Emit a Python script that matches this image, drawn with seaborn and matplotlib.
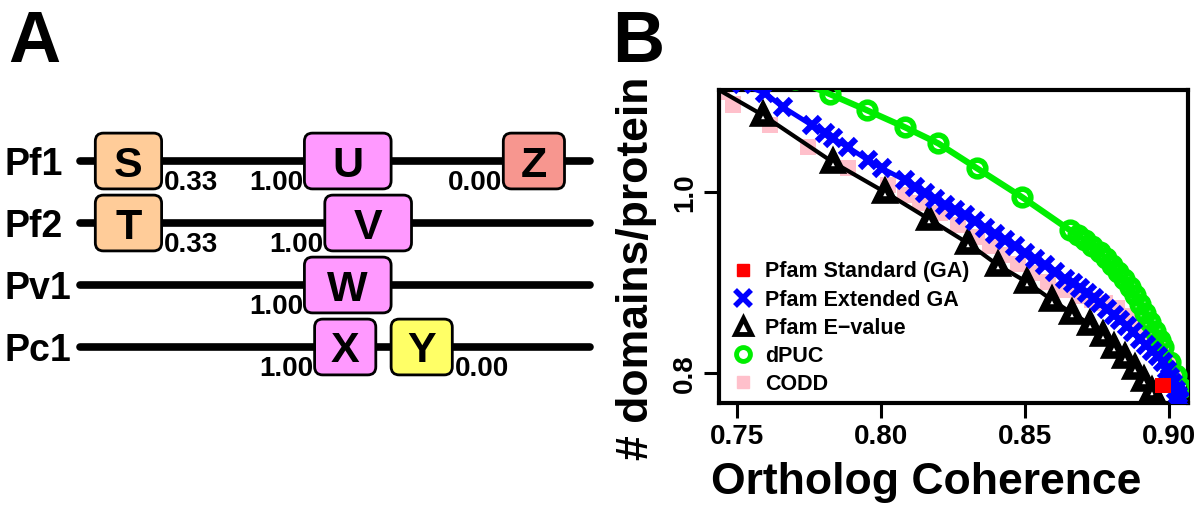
import matplotlib
matplotlib.use("Agg")
import matplotlib.pyplot as plt
from matplotlib.patches import FancyBboxPatch
from matplotlib.lines import Line2D
import seaborn as sns

# ── Panel A: domain architectures ────────────────────────────────────
PROTEINS = ["Pf1", "Pf2", "Pv1", "Pc1"]
PROTEIN_LENGTH = 100
DOM_ROW = [0, 0, 0, 1, 1, 2, 3, 3]
DOM_LETTER = ["S", "U", "Z", "T", "V", "W", "X", "Y"]
DOM_START = [3, 44, 83, 3, 48, 44, 46, 61]
DOM_END = [16, 61, 95, 16, 65, 61, 58, 73]
DOM_SCORE = ["0.33", "1.00", "0.00", "0.33", "1.00", "1.00", "1.00", "0.00"]
DOM_SCORE_SIDE = ["right", "left", "left", "right", "left", "left", "left", "right"]
DOM_COLOR = ["#FFCC99", "#FF99FF", "#F7968F", "#FFCC99", "#FF99FF",
             "#FF99FF", "#FF99FF", "#FFFF66"]

# ── Panel B: domains/protein vs ortholog coherence ───────────────────
STD_X = [0.8979]
STD_Y = [0.7867]

EXT_X = [0.7517, 0.7597, 0.7660, 0.7760, 0.7806, 0.7833, 0.7885, 0.7955,
         0.8003, 0.8083, 0.8118, 0.8153, 0.8188, 0.8222, 0.8257, 0.8292,
         0.8326, 0.8361, 0.8396, 0.8431, 0.8465, 0.8500, 0.8535, 0.8569,
         0.8604, 0.8639, 0.8667, 0.8691, 0.8715, 0.8740, 0.8760, 0.8785,
         0.8809, 0.8830, 0.8854, 0.8875, 0.8899, 0.8920, 0.8941, 0.8962,
         0.8979, 0.8993, 0.9003, 0.9014, 0.9024, 0.9031, 0.9038]
EXT_Y = [1.1193, 1.1094, 1.0939, 1.0740, 1.0652, 1.0597, 1.0497, 1.0354,
         1.0265, 1.0133, 1.0055, 0.9989, 0.9923, 0.9856, 0.9801, 0.9746,
         0.9680, 0.9602, 0.9536, 0.9470, 0.9403, 0.9326, 0.9260, 0.9193,
         0.9116, 0.9039, 0.8994, 0.8939, 0.8884, 0.8829, 0.8773, 0.8707,
         0.8641, 0.8586, 0.8519, 0.8453, 0.8376, 0.8309, 0.8243, 0.8188,
         0.8122, 0.8033, 0.7956, 0.7890, 0.7812, 0.7757, 0.7702]

EVAL_X = [0.7372, 0.7590, 0.7833, 0.8014, 0.8167, 0.8302, 0.8406, 0.8507,
          0.8594, 0.8663, 0.8726, 0.8771, 0.8809, 0.8847, 0.8882, 0.8913,
          0.8941, 0.8962]
EVAL_Y = [1.1249, 1.0851, 1.0331, 1.0000, 0.9702, 0.9436, 0.9193, 0.9006,
          0.8807, 0.8663, 0.8541, 0.8420, 0.8287, 0.8177, 0.8055, 0.7923,
          0.7801, 0.7680]

DPUC_X = [0.7701, 0.7823, 0.7951, 0.8083, 0.8198, 0.8333, 0.8490, 0.8656,
          0.8684, 0.8708, 0.8733, 0.8760, 0.8781, 0.8802, 0.8823, 0.8844,
          0.8865, 0.8882, 0.8899, 0.8917, 0.8934, 0.8951, 0.8969, 0.8979,
          0.9003, 0.9024, 0.9042]
DPUC_Y = [1.1249, 1.1083, 1.0906, 1.0718, 1.0541, 1.0265, 0.9945, 0.9580,
          0.9525, 0.9470, 0.9403, 0.9337, 0.9271, 0.9193, 0.9116, 0.9039,
          0.8950, 0.8862, 0.8762, 0.8663, 0.8564, 0.8464, 0.8365, 0.8287,
          0.8122, 0.7978, 0.7834]

CODD_X = [0.7448, 0.7486, 0.7615, 0.7747, 0.7885, 0.8024, 0.8083, 0.8135,
          0.8205, 0.8267, 0.8333, 0.8378, 0.8424, 0.8476, 0.8528, 0.8580,
          0.8632, 0.8684, 0.8733, 0.8778, 0.8819, 0.8854, 0.8889, 0.8924,
          0.8958, 0.8986, 0.9010, 0.9028, 0.9042]
CODD_Y = [1.1105, 1.0972, 1.0740, 1.0497, 1.0265, 1.0077, 0.9967, 0.9878,
          0.9768, 0.9635, 0.9503, 0.9403, 0.9304, 0.9204, 0.9105, 0.9006,
          0.8917, 0.8851, 0.8807, 0.8773, 0.8718, 0.8630, 0.8530, 0.8442,
          0.8354, 0.8265, 0.8088, 0.7923, 0.7757]

X_TICKS = [0.75, 0.80, 0.85, 0.90]
X_TICK_LABELS = ["0.75", "0.80", "0.85", "0.90"]
Y_TICKS = [0.8, 1.0]
Y_TICK_LABELS = ["0.8", "1.0"]
LEGEND_LABELS = ["Pfam Standard (GA)", "Pfam Extended GA", "Pfam E\u2212value",
                 "dPUC", "CODD"]

sns.set_theme(style="white")
plt.rcParams["font.family"] = ["Liberation Sans", "DejaVu Sans"]
plt.rcParams["font.weight"] = "bold"
plt.rcParams["axes.labelweight"] = "bold"
plt.rcParams["text.color"] = "black"
plt.rcParams["axes.labelcolor"] = "black"
plt.rcParams["xtick.color"] = "black"
plt.rcParams["ytick.color"] = "black"

fig = plt.figure(figsize=(12, 5.24), dpi=100)

# ── Panel A ──────────────────────────────────────────────────────────
ax_a = fig.add_axes([0, 0, 0.5, 1])
ax_a.set_xlim(-15.69, 101.96)
ax_a.set_ylim(5.855, -2.597)
ax_a.axis("off")

for i, name in enumerate(PROTEINS):
    ax_a.plot([0, PROTEIN_LENGTH], [i, i], color="black", lw=5.5,
              solid_capstyle="round", zorder=1)
    ax_a.text(-14.9, i + 0.22, name, fontsize=27, fontweight="bold",
              ha="left", va="baseline")

for row, letter, s, e, score, side, col in zip(DOM_ROW, DOM_LETTER, DOM_START,
                                               DOM_END, DOM_SCORE,
                                               DOM_SCORE_SIDE, DOM_COLOR):
    box = FancyBboxPatch((s, row - 0.45), e - s, 0.9,
                         boxstyle="round,pad=0,rounding_size=1.6",
                         mutation_aspect=0.0823, facecolor=col,
                         edgecolor="black", lw=2, zorder=2)
    ax_a.add_patch(box)
    ax_a.text((s + e) / 2, row + 0.25, letter, fontsize=31, fontweight="bold",
              ha="center", va="baseline", zorder=3)
    if side == "right":
        ax_a.text(e + 0.5, row + 0.47, score, fontsize=20, fontweight="bold",
                  ha="left", va="baseline")
    else:
        ax_a.text(s - 0.3, row + 0.47, score, fontsize=20, fontweight="bold",
                  ha="right", va="baseline")

fig.text(8 / 1200, 1 - 62 / 524, "A", fontsize=52, fontweight="bold",
         va="baseline", ha="left")
fig.text(612 / 1200, 1 - 62 / 524, "B", fontsize=52, fontweight="bold",
         va="baseline", ha="left")

# ── Panel B ──────────────────────────────────────────────────────────
ax_b = fig.add_axes([719 / 1200, 121 / 524, 469 / 1200, 313 / 524])

sns.scatterplot(x=CODD_X, y=CODD_Y, marker="s", s=140, color="#FFC0CB",
                edgecolor="none", linewidth=0, legend=False, ax=ax_b, zorder=1)
sns.lineplot(x=EVAL_X, y=EVAL_Y, sort=False, estimator=None, color="black",
             lw=3, marker="^", ms=11, mfc="white", mec="black", mew=5.5,
             ax=ax_b, zorder=2)
sns.lineplot(x=DPUC_X, y=DPUC_Y, sort=False, estimator=None, color="#00EE00",
             lw=4.5, marker="o", ms=12, mfc="none", mec="#00EE00", mew=4,
             ax=ax_b, zorder=3)
sns.lineplot(x=EXT_X, y=EXT_Y, sort=False, estimator=None, color="#0000FF",
             lw=3.5, marker="x", ms=12, mec="#0000FF", mew=4.5,
             ax=ax_b, zorder=4)
sns.scatterplot(x=STD_X, y=STD_Y, marker="s", s=120, color="#FF0000",
                edgecolor="none", linewidth=0, legend=False, ax=ax_b, zorder=5)

ax_b.set_xlim(0.7437, 0.9066)
ax_b.set_ylim(0.767, 1.113)
ax_b.set_xticks(X_TICKS)
ax_b.set_xticklabels(X_TICK_LABELS, fontsize=20, fontweight="bold")
ax_b.set_yticks(Y_TICKS)
ax_b.set_yticklabels(Y_TICK_LABELS, fontsize=20, fontweight="bold",
                     rotation=90, va="center")
ax_b.tick_params(direction="out", length=11, width=2.2, pad=4,
                 left=True, bottom=True, colors="black")
for sp in ax_b.spines.values():
    sp.set_linewidth(3)
    sp.set_color("black")

ax_b.set_xlabel("Ortholog Coherence", fontsize=32, fontweight="bold")
ax_b.xaxis.set_label_coords(0.441, -0.19)
ax_b.set_ylabel("# domains/protein", fontsize=32, fontweight="bold")
ax_b.yaxis.set_label_coords(-0.132, 0.43)

handles = [
    Line2D([], [], ls="none", marker="s", ms=8, color="#FF0000"),
    Line2D([], [], ls="none", marker="x", ms=11, mec="#0000FF", mew=4),
    Line2D([], [], ls="none", marker="^", ms=11, mfc="white", mec="black", mew=3.5),
    Line2D([], [], ls="none", marker="o", ms=10, mfc="white", mec="#00EE00", mew=3.5),
    Line2D([], [], ls="none", marker="s", ms=9, color="#FFC0CB"),
]
ax_b.legend(handles, LEGEND_LABELS, loc="lower left",
            bbox_to_anchor=(0.028, 0.026), frameon=False, fontsize=15.5,
            handlelength=1.0, handletextpad=0.53, labelspacing=0.33,
            borderpad=0, borderaxespad=0)

fig.savefig("out.png", dpi=100)
plt.close(fig)
